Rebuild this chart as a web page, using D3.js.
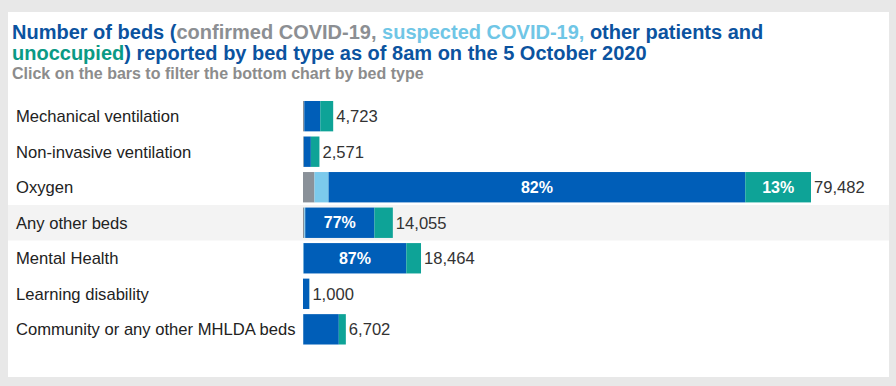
<!DOCTYPE html>
<meta charset="utf-8">
<html>
<style>
	body { margin: 0; background: #e8e8e8; font-family: "Liberation Sans", Arial, sans-serif; }
	.cat { font-size: 16.6px; fill: #222; }
	.val { font-size: 16.6px; fill: #333; }
	.pct { font-size: 16px; font-weight: bold; fill: #fff; }
</style>
<body>
	<script src="https://d3js.org/d3.v7.min.js"></script>
	<script type="text/javascript">
		// bed types, top to bottom
		var bedTypes = ["Mechanical ventilation", "Non-invasive ventilation", "Oxygen", "Any other beds",
			"Mental Health", "Learning disability", "Community or any other MHLDA beds"];
		// series values (number of beds)
		var confirmed = [170, 120, 1800, 200, 30, 0, 20];
		var suspected = [30, 20, 2200, 150, 70, 0, 22];
		var otherPatients = [2500, 1090, 65200, 10822, 16064, 985, 5560];
		var unoccupied = [2023, 1341, 10282, 2883, 2300, 15, 1100];
		var seriesKeys = ["confirmed", "suspected", "other", "unoccupied"];
		var seriesColors = ["#8a9199", "#7ccaec", "#005eb8", "#0ea397"];

		var width = 896, height = 386;
		var x0 = 303, xMax = 811;

		var svg = d3.select("body").append("svg")
			.attr("width", width)
			.attr("height", height)
			.style("display", "block");

		// white panel
		svg.append("rect")
			.attr("x", 8).attr("y", 12)
			.attr("width", 881).attr("height", 365)
			.attr("fill", "#fff");

		// title
		var title = svg.append("text")
			.attr("x", 12).attr("y", 39)
			.style("font-size", "20px").style("font-weight", "bold");
		title.append("tspan").attr("fill", "#0b539f").text("Number of beds (");
		title.append("tspan").attr("fill", "#8c8f93").text("confirmed COVID-19, ");
		title.append("tspan").attr("fill", "#6fc6e6").text("suspected COVID-19, ");
		title.append("tspan").attr("fill", "#0b539f").text("other patients and");
		var title2 = svg.append("text")
			.attr("x", 12).attr("y", 60)
			.style("font-size", "20px").style("font-weight", "bold");
		title2.append("tspan").attr("fill", "#0a9a85").text("unoccupied");
		title2.append("tspan").attr("fill", "#0b539f").text(") reported by bed type as of 8am on the 5 October 2020");
		svg.append("text")
			.attr("x", 12).attr("y", 79)
			.attr("fill", "#8c8c8c")
			.style("font-size", "16px").style("font-weight", "bold")
			.text("Click on the bars to filter the bottom chart by bed type");

		var rows = bedTypes.map(function (d, i) {
			var total = confirmed[i] + suspected[i] + otherPatients[i] + unoccupied[i];
			return { type: d, confirmed: confirmed[i], suspected: suspected[i], other: otherPatients[i], unoccupied: unoccupied[i], total: total };
		});

		var y = d3.scaleBand()
			.domain(bedTypes)
			.range([98.5, 347])
			.paddingInner(0.145)
			.paddingOuter(0.07);

		var x = d3.scaleLinear()
			.domain([0, d3.max(rows, function (d) { return d.total; })])
			.range([x0, xMax]);

		var stack = d3.stack().keys(seriesKeys);
		var series = stack(rows);

		// highlighted row
		svg.append("rect")
			.attr("x", 8).attr("width", 881)
			.attr("y", y("Any other beds") - y.step() * y.paddingInner() / 2)
			.attr("height", y.step())
			.attr("fill", "#f3f3f3");

		// category labels
		svg.selectAll(".cat")
			.data(rows)
			.enter().append("text")
			.attr("class", "cat")
			.attr("x", 16)
			.attr("y", function (d) { return y(d.type) + y.bandwidth() / 2; })
			.attr("dy", ".35em")
			.text(function (d) { return d.type; });

		var layer = svg.selectAll(".layer")
			.data(series)
			.enter().append("g")
			.attr("class", "layer")
			.attr("fill", function (d, i) { return seriesColors[i]; });

		layer.selectAll("rect")
			.data(function (d) { return d; })
			.enter().append("rect")
			.attr("x", function (d) { return x(d[0]); })
			.attr("width", function (d) { return x(d[1]) - x(d[0]); })
			.attr("y", function (d) { return y(d.data.type); })
			.attr("height", y.bandwidth());

		// percentage labels on wide segments
		layer.selectAll(".pct")
			.data(function (d) {
				return d.filter(function (s) { return x(s[1]) - x(s[0]) > 50; });
			})
			.enter().append("text")
			.attr("class", "pct")
			.attr("text-anchor", "middle")
			.attr("x", function (d) { return (x(d[0]) + x(d[1])) / 2; })
			.attr("y", function (d) { return y(d.data.type) + y.bandwidth() / 2; })
			.attr("dy", ".35em")
			.text(function (d) { return Math.round((d[1] - d[0]) / d.data.total * 100) + "%"; });

		// totals
		svg.selectAll(".val")
			.data(rows)
			.enter().append("text")
			.attr("class", "val")
			.attr("x", function (d) { return x(d.total) + 3; })
			.attr("y", function (d) { return y(d.type) + y.bandwidth() / 2; })
			.attr("dy", ".35em")
			.text(function (d) { return d3.format(",")(d.total); });
	</script>
</body>
</html>
